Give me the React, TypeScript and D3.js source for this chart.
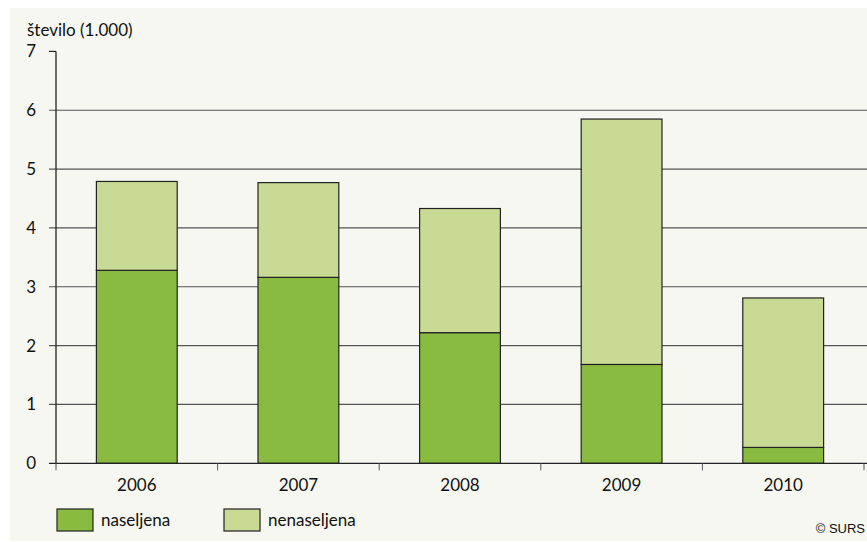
import React from "react";
import * as d3 from "d3";

const years = ["2006", "2007", "2008", "2009", "2010"];
const naseljena = [3.28, 3.16, 2.22, 1.68, 0.27];
const nenaseljena = [1.51, 1.61, 2.11, 4.17, 2.54];
const yTicks = [0, 1, 2, 3, 4, 5, 6, 7];
const seriesNames = ["naseljena", "nenaseljena"];
const colors = ["#88bb40", "#c8da94"];

export default function App() {
  const W = 867, H = 542;
  const x0 = 56, x1 = 864;
  const y = d3.scaleLinear().domain([0, 7]).range([463.3, 51.4]);
  const x = d3.scaleBand().domain(years).range([x0, x1]).paddingInner(0.5).paddingOuter(0.25);
  const font = "Lato, 'Open Sans', sans-serif";
  const rows = years.map((yr, i) => ({ year: yr, naseljena: naseljena[i], nenaseljena: nenaseljena[i] }));
  const stack = d3.stack<any>().keys(seriesNames)(rows);
  const step = (x1 - x0) / years.length;
  return (
    <svg width={W} height={H} style={{ position: "absolute", left: 0, top: 0 }}>
      <rect x={0} y={0} width={W} height={H} fill="#fff" />
      <rect x={10} y={8} width={W - 10} height={533} fill="#f5f7f0" />
      {yTicks.filter(t => t > 0 && t < 7).map(t => (
        <line key={t} x1={49} x2={W} y1={y(t)} y2={y(t)} stroke="#555" strokeWidth={1.2} />
      ))}
      <line x1={49} x2={56} y1={y(7)} y2={y(7)} stroke="#222" strokeWidth={1.2} />
      <line x1={56} x2={56} y1={y(7)} y2={y(0)} stroke="#222" strokeWidth={1.3} />
      {stack.map((s, si) => (
        <g key={si}>
          {s.map((d, i) => (
            <rect key={i} x={x(years[i])} width={x.bandwidth()} y={y(d[1])} height={y(d[0]) - y(d[1])}
              fill={colors[si]} stroke="#222" strokeWidth={1.2} />
          ))}
        </g>
      ))}
      <line x1={49} x2={W} y1={y(0)} y2={y(0)} stroke="#222" strokeWidth={1.3} />
      {d3.range(years.length + 1).map(i => (
        <line key={i} x1={x0 + i * step} x2={x0 + i * step} y1={y(0)} y2={y(0) + 7} stroke="#555" strokeWidth={1} />
      ))}
      {yTicks.map(t => (
        <text key={t} x={36} y={y(t) + 6} fontSize={17} fontFamily={font} textAnchor="end" fill="#111">{t}</text>
      ))}
      <text x={27} y={36} fontSize={17} fontFamily={font} fill="#111">število (1.000)</text>
      {years.map(yr => (
        <text key={yr} x={(x(yr) as number) + x.bandwidth() / 2} y={491} fontSize={17} fontFamily={font} textAnchor="middle" fill="#111">{yr}</text>
      ))}
      {seriesNames.map((n, i) => (
        <g key={n} transform={`translate(${57 + i * 167},509)`}>
          <rect x={0} y={0} width={36} height={22} fill={colors[i]} stroke="#222" strokeWidth={1.2} />
          <text x={44} y={17} fontSize={17} fontFamily={font} fill="#111">{n}</text>
        </g>
      ))}
      <text x={865} y={533} fontSize={13} fontFamily="'Liberation Sans', Arial, sans-serif" textAnchor="end" fill="#111">© SURS</text>
    </svg>
  );
}
